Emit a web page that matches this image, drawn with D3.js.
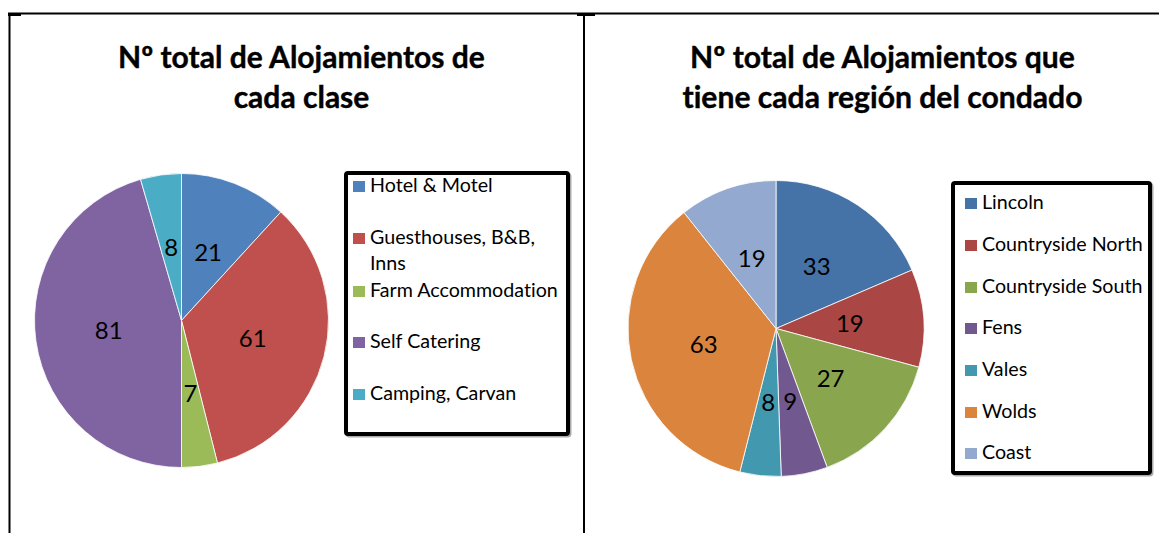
<!DOCTYPE html>
<html>
<head>
<meta charset="utf-8">
<script src="https://cdn.jsdelivr.net/npm/d3@7"></script>
<style>
  html, body { margin: 0; padding: 0; background: #fff; }
  svg { display: block; }
  text { font-family: Lato, "Noto Sans", sans-serif; fill: #000; font-variant-ligatures: none; font-feature-settings: "liga" 0, "dlig" 0; }
</style>
</head>
<body>
<svg id="chart" width="1159" height="533"></svg>
<script>
// ---- Data ----
const titleLeft = ["Nº total de Alojamientos de", "cada clase"];
const titleRight = ["Nº total de Alojamientos que", "tiene cada región del condado"];

const classCategories = ["Hotel & Motel", "Guesthouses, B&B, Inns", "Farm Accommodation", "Self Catering", "Camping, Carvan"];
const classLegendLines = [["Hotel & Motel"], ["Guesthouses, B&B,", "Inns"], ["Farm Accommodation"], ["Self Catering"], ["Camping, Carvan"]];
const classValues = [21, 61, 7, 81, 8];
const classColors = ["#4F81BD", "#C0504D", "#9BBB59", "#8064A2", "#4BACC6"];

const regionCategories = ["Lincoln", "Countryside North", "Countryside South", "Fens", "Vales", "Wolds", "Coast"];
const regionValues = [33, 19, 27, 9, 8, 63, 19];
const regionColors = ["#4572A7", "#AA4643", "#89A54E", "#71588F", "#4198AF", "#DB843D", "#93A9CF"];

// ---- Drawing ----
const svg = d3.select("#chart");

// frame lines
const frame = svg.append("g").attr("stroke", "#000").attr("stroke-width", 2).attr("fill", "none");
frame.append("line").attr("x1", 8).attr("x2", 1159).attr("y1", 13.5).attr("y2", 13.5);
frame.append("line").attr("x1", 8).attr("x2", 21).attr("y1", 15).attr("y2", 15);
frame.append("line").attr("x1", 9.5).attr("x2", 9.5).attr("y1", 13).attr("y2", 533);
frame.append("line").attr("x1", 577).attr("x2", 595).attr("y1", 15).attr("y2", 15);
frame.append("line").attr("x1", 584).attr("x2", 584).attr("y1", 13).attr("y2", 533);

function fitSize(g, str, weight, targetWidth) {
  const probe = g.append("text").attr("font-weight", weight).attr("font-size", 100).text(str);
  const w = probe.node().getComputedTextLength();
  probe.remove();
  return 100 * targetWidth / w;
}

// titles - fit font size to measured widths
function drawTitle(lines, cx, targetWidth) {
  const g = svg.append("g");
  const fs = fitSize(g, lines[0], "bold", targetWidth);
  lines.forEach((l, i) => {
    g.append("text")
      .attr("x", cx).attr("y", 68 + i * 40)
      .attr("text-anchor", "middle")
      .attr("font-weight", "bold")
      .attr("stroke", "#000")
      .attr("stroke-width", 0.4)
      .attr("font-size", fs)
      .text(l);
  });
}
drawTitle(titleLeft, 301.5, 367);
drawTitle(titleRight, 882.5, 385);

function drawPie(values, colors, cx, cy, r) {
  const pie = d3.pie().sort(null).value(d => d)(values);
  const arc = d3.arc().innerRadius(0).outerRadius(r);
  const labelArc = d3.arc().innerRadius(r * 0.5).outerRadius(r * 0.5);
  const g = svg.append("g").attr("transform", `translate(${cx},${cy})`);
  g.selectAll("path").data(pie).join("path")
    .attr("d", arc)
    .attr("fill", (d, i) => colors[i])
    .attr("stroke", "#fff")
    .attr("stroke-width", 0.8);
  g.selectAll("text").data(pie).join("text")
    .attr("transform", d => `translate(${labelArc.centroid(d)})`)
    .attr("text-anchor", "middle")
    .attr("dy", "0.36em")
    .attr("font-size", 24)
    .text(d => d.data);
}
drawPie(classValues, classColors, 181.5, 320.5, 147);
drawPie(regionValues, regionColors, 776, 328.5, 148);

function drawLegend(box, items, colors, baselines, sqX, textX, fs, lineStep) {
  const g = svg.append("g");
  g.append("rect")
    .attr("x", box[0] + 1.5).attr("y", box[1] + 1.5)
    .attr("width", box[2] - box[0]).attr("height", box[3] - box[1])
    .attr("rx", 2).attr("fill", "none").attr("stroke", "#aaa").attr("stroke-width", 4);
  g.append("rect")
    .attr("x", box[0]).attr("y", box[1])
    .attr("width", box[2] - box[0]).attr("height", box[3] - box[1])
    .attr("rx", 2).attr("fill", "#fff").attr("stroke", "#000").attr("stroke-width", 4);
  items.forEach((lines, i) => {
    const b = baselines[i];
    g.append("rect")
      .attr("x", sqX).attr("y", b - 11)
      .attr("width", 12).attr("height", 11)
      .attr("fill", colors[i]);
    lines.forEach((l, j) => {
      g.append("text")
        .attr("x", textX).attr("y", b + j * lineStep)
        .attr("font-size", fs)
        .text(l);
    });
  });
}
const legFs = fitSize(svg, "Farm Accommodation", 400, 188);
drawLegend([346, 173, 568, 434], classLegendLines, classColors,
  [192, 244, 297, 348, 400], 353, 370, legFs, 26);
drawLegend([953, 183, 1150, 473], regionCategories.map(d => [d]), regionColors,
  [209, 251, 293, 334, 376, 418, 459], 965, 982, legFs, 0);
</script>
</body>
</html>
